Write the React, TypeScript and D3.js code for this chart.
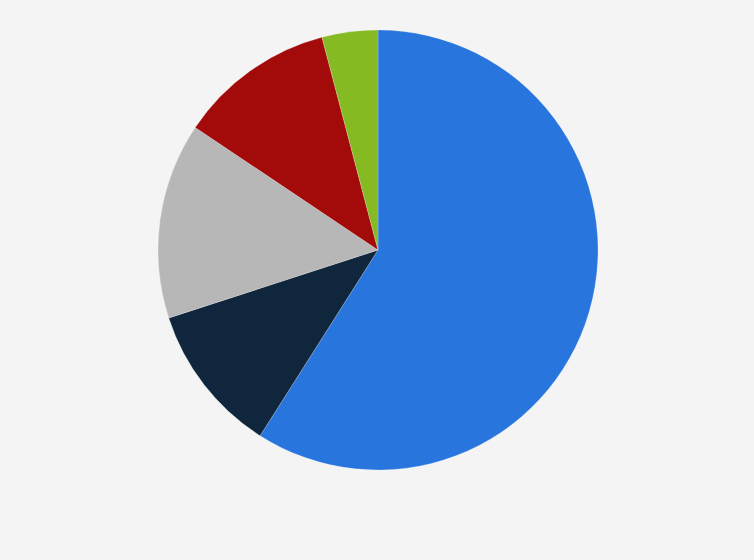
import * as d3 from "d3";
import { useRef, useEffect } from "react";

const categories = ["A", "B", "C", "D", "E"];
const shares = [59.0, 11.0, 14.4, 11.5, 4.1];
const colors = ["#2876dd", "#0f263d", "#b7b7b7", "#a30a0a", "#86ba23"];

export default function App() {
  const svgRef = useRef<SVGSVGElement>(null);
  const width = 754;
  const height = 560;

  useEffect(() => {
    document.body.style.margin = "0";
    const svg = d3.select(svgRef.current);
    svg.selectAll("*").remove();

    svg.append("rect")
      .attr("width", width)
      .attr("height", height)
      .attr("fill", "#f4f4f4");

    const data = categories.map((c, i) => ({ name: c, value: shares[i], color: colors[i] }));

    const pie = d3.pie<any>()
      .value(d => d.value)
      .sort(null);

    const arc = d3.arc<any>()
      .innerRadius(0)
      .outerRadius(220);

    svg.append("g")
      .attr("transform", "translate(378,250)")
      .selectAll("path")
      .data(pie(data))
      .join("path")
        .attr("d", arc)
        .attr("fill", d => d.data.color)
        .attr("stroke", "rgba(255,255,255,0.35)")
        .attr("stroke-width", 0.6);
  }, []);

  return (
    <svg ref={svgRef} width={width} height={height} style={{ display: "block" }} />
  );
}
